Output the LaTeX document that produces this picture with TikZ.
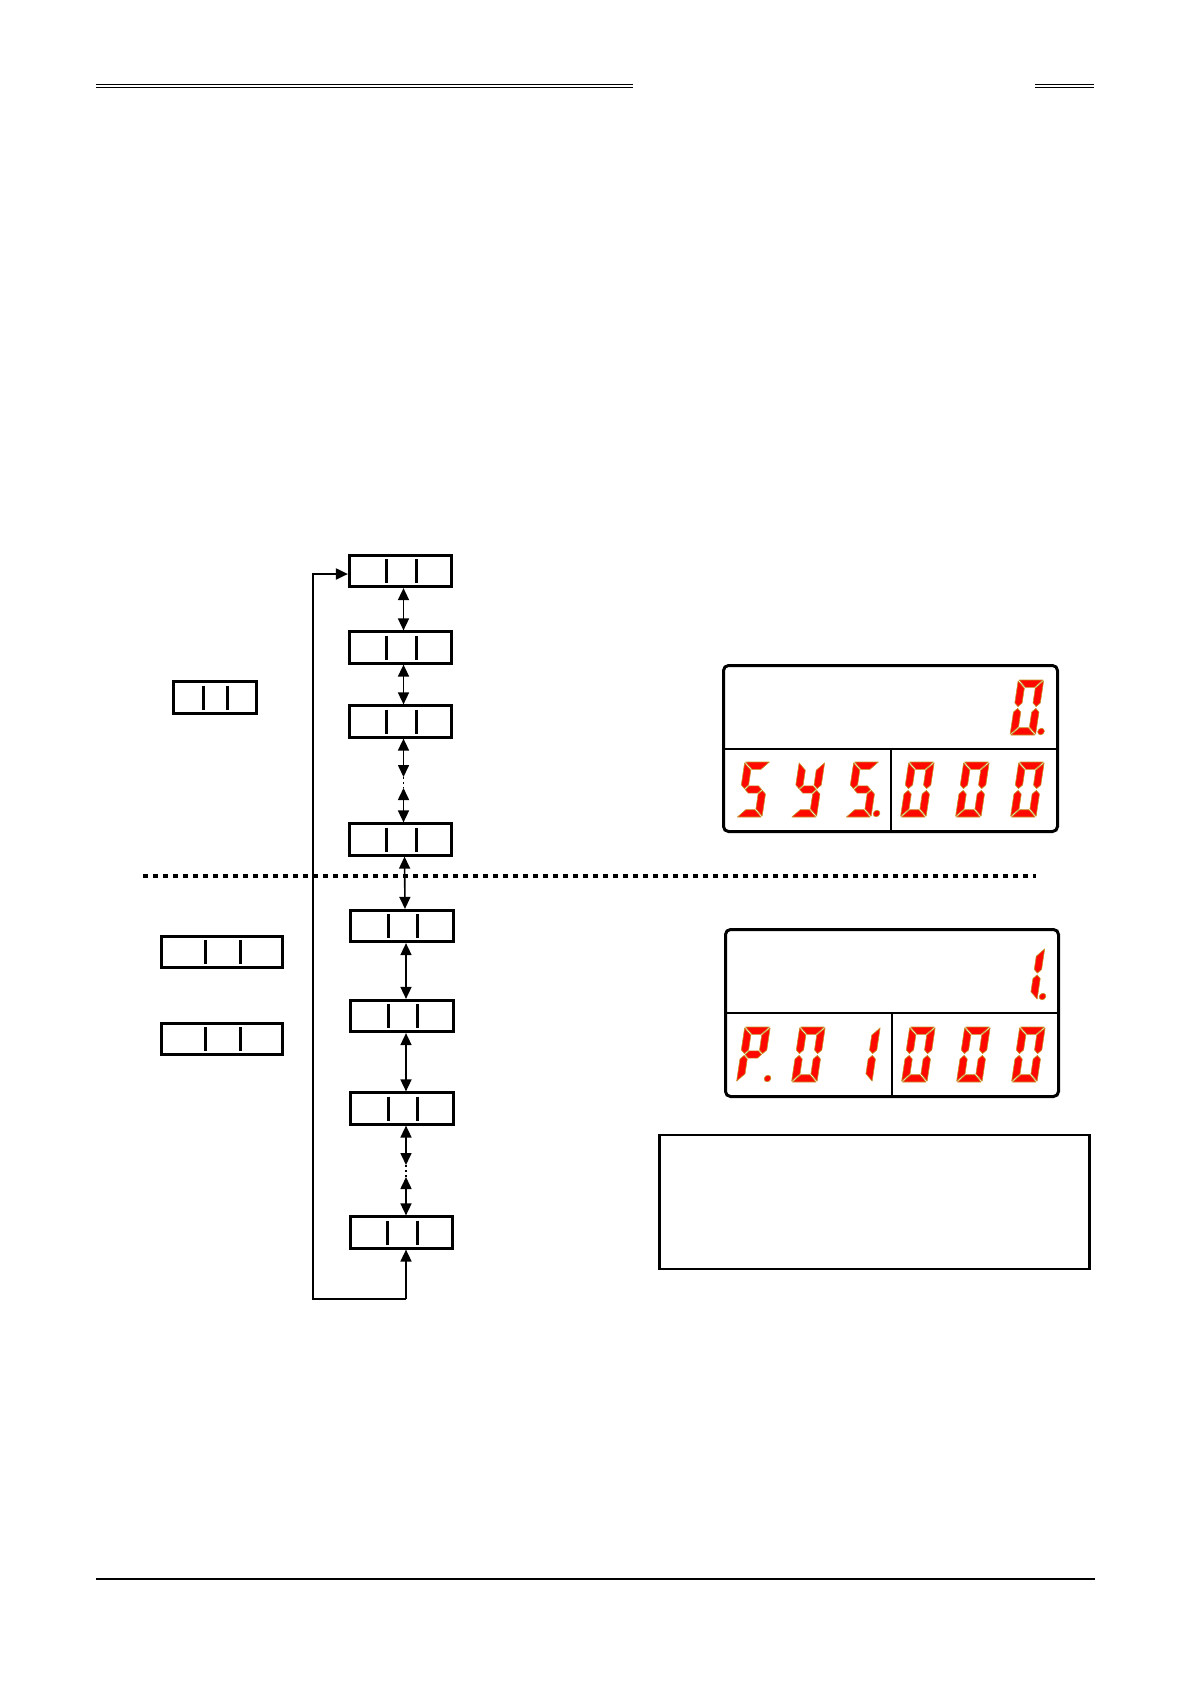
\documentclass[tikz,border=0pt]{standalone}
\usetikzlibrary{arrows.meta}
\definecolor{segred}{RGB}{255,8,0}
\definecolor{segedge}{RGB}{196,150,40}
\def\sgW{25.5}\def\sgT{7.3}\def\sgG{0.9}\def\sgH{55}
\newcommand\SA{\path[seg] (\sgG,\sgH) -- (\sgW-\sgG,\sgH) -- (\sgW-\sgT-\sgG,\sgH-\sgT) -- (\sgT+\sgG,\sgH-\sgT) -- cycle;}
\newcommand\SB{\path[seg] (\sgW,\sgH-\sgG) -- (\sgW,\sgH/2+\sgG+\sgT/2) -- (\sgW-\sgT/2,\sgH/2+\sgG) -- (\sgW-\sgT,\sgH/2+\sgG+\sgT/2) -- (\sgW-\sgT,\sgH-\sgT-\sgG) -- cycle;}
\newcommand\SC{\path[seg] (\sgW,\sgG) -- (\sgW,\sgH/2-\sgG-\sgT/2) -- (\sgW-\sgT/2,\sgH/2-\sgG) -- (\sgW-\sgT,\sgH/2-\sgG-\sgT/2) -- (\sgW-\sgT,\sgT+\sgG) -- cycle;}
\newcommand\SD{\path[seg] (\sgG,0) -- (\sgW-\sgG,0) -- (\sgW-\sgT-\sgG,\sgT) -- (\sgT+\sgG,\sgT) -- cycle;}
\newcommand\SE{\path[seg] (0,\sgG) -- (0,\sgH/2-\sgG-\sgT/2) -- (\sgT/2,\sgH/2-\sgG) -- (\sgT,\sgH/2-\sgG-\sgT/2) -- (\sgT,\sgT+\sgG) -- cycle;}
\newcommand\SF{\path[seg] (0,\sgH-\sgG) -- (0,\sgH/2+\sgG+\sgT/2) -- (\sgT/2,\sgH/2+\sgG) -- (\sgT,\sgH/2+\sgG+\sgT/2) -- (\sgT,\sgH-\sgT-\sgG) -- cycle;}
\newcommand\SG{\path[seg] (\sgT/2+\sgG,\sgH/2) -- (\sgT+\sgG,\sgH/2+\sgT/2) -- (\sgW-\sgT-\sgG,\sgH/2+\sgT/2) -- (\sgW-\sgT/2-\sgG,\sgH/2) -- (\sgW-\sgT-\sgG,\sgH/2-\sgT/2) -- (\sgT+\sgG,\sgH/2-\sgT/2) -- cycle;}
\newcommand\SP{\path[seg] (30.5,3.5) circle[radius=3.3];}
\newcommand\sdig[4]{\begin{scope}[shift={(#1,#2)},x=1pt,y=1pt,xslant=0.15]\def\sgH{#3}#4\end{scope}}
\tikzset{
  seg/.style={fill=segred, draw=segedge, line width=0.6pt, line join=round},
  keybox/.style n args={4}{draw, line width=2.7pt, minimum width=#1, minimum height=#2, inner sep=0pt,
    path picture={
      \draw[line width=3pt] ([xshift=#3]path picture bounding box.center) ++(0,-12) -- ++(0,24);
      \draw[line width=3pt] ([xshift=#4]path picture bounding box.center) ++(0,-12) -- ++(0,24);}},
  mainbox/.style={keybox={102.5pt}{31.5pt}{-14pt}{15.5pt}},
  sidebox/.style={keybox={121.5pt}{31.5pt}{-17pt}{18pt}},
  dispbox/.style={draw, line width=3pt, rounded corners=5pt, inner sep=0pt},
  darr/.style={line width=1.6pt, {Triangle[length=12pt,width=11pt]}-{Triangle[length=12pt,width=11pt]}},
  arr/.style={line width=1.6pt, -{Triangle[length=12pt,width=11pt]}},
  dotseg/.style={line width=1.6pt, dash pattern=on 2pt off 3pt},
  rule/.style={line width=1.2pt},
}
\begin{document}
\begin{tikzpicture}[x=1pt,y=-1pt]
\fill[white] (0,0) rectangle (1191,1684);
\useasboundingbox (0,0) rectangle (1191,1684);
% header and footer rules
\draw[rule] (96,84.5) -- (633,84.5);
\draw[rule] (96,87.6) -- (633,87.6);
\draw[rule] (1035,84.5) -- (1094,84.5);
\draw[rule] (1035,87.6) -- (1094,87.6);
\draw[line width=2pt] (96,1579) -- (1095,1579);
% separator
\draw[line width=4.5pt, dash pattern=on 4.5pt off 5.5pt] (143,876) -- (1036,876);
% main column
\node[mainbox] (b1) at (400.5,571) {};
\node[mainbox] (b2) at (400.5,647.5) {};
\node[mainbox] (b3) at (400.5,721.5) {};
\node[mainbox] (b4) at (400.5,839.5) {};
\node[mainbox] (b5) at (402,926) {};
\node[mainbox] (b6) at (402,1016) {};
\node[mainbox] (b7) at (402,1108.5) {};
\node[mainbox] (b8) at (401.5,1232.5) {};
% side boxes
\node[keybox={83.5pt}{32.5pt}{-12pt}{12pt}] (l1) at (215,697.5) {};
\node[sidebox] (l2) at (222,952) {};
\node[sidebox] (l3) at (222,1039) {};
% connectors
\draw[darr] ([xshift=3pt]b1.south) -- ([xshift=3pt]b2.north);
\draw[darr] ([xshift=3pt]b2.south) -- ([xshift=3pt]b3.north);
\coordinate (m1) at (403.5,777);
\coordinate (m2) at (403.5,788);
\draw[darr] ([xshift=3pt]b3.south) -- (m1);
\draw[dotseg] (m1) -- (m2);
\draw[darr] (m2) -- ([xshift=3pt]b4.north);
\draw[darr] ([xshift=4pt]b4.south) -- ([xshift=3pt]b5.north);
\draw[darr] ([xshift=4pt]b5.south) -- ([xshift=4pt]b6.north);
\draw[darr] ([xshift=4pt]b6.south) -- ([xshift=4pt]b7.north);
\coordinate (m3) at (406,1165);
\coordinate (m4) at (406,1177);
\draw[darr] ([xshift=4pt]b7.south) -- (m3);
\draw[dotseg] (m3) -- (m4);
\draw[darr] (m4) -- ([xshift=4.5pt]b8.north);
\coordinate (fb) at (406,1299);
\coordinate (fc) at (313,1299);
\draw[arr] (fb) -- ([xshift=4.5pt]b8.south);
\draw[arr, line width=2pt] (fb) -- (fc) |- ([yshift=-3pt]b1.west);
% displays
\node[dispbox, minimum width=334pt, minimum height=166pt] (d1) at (890.5,748.5) {};
\draw[line width=2pt] (d1.west) -- (d1.east);
\draw[line width=2pt] (d1.center) -- (d1.south);
\node[dispbox, minimum width=333pt, minimum height=167pt] (d2) at (892,1013) {};
\draw[line width=2pt] (d2.west) -- (d2.east);
\draw[line width=2pt] (d2.center) -- (d2.south);
% display 1 digits
\sdig{1010}{735}{55}{\SA\SB\SC\SD\SE\SF\SP}
\sdig{736.5}{817}{55}{\SA\SF\SG\SC\SD}
\sdig{791}{817}{55}{\SB\SF\SG\SC\SD}
\sdig{845.5}{817}{55}{\SA\SF\SG\SC\SD\SP}
\sdig{900.5}{817}{55}{\SA\SB\SC\SD\SE\SF}
\sdig{955.5}{817}{55}{\SA\SB\SC\SD\SE\SF}
\sdig{1010.5}{817}{55}{\SA\SB\SC\SD\SE\SF}
% display 2 digits
\sdig{1011.5}{1000}{52}{\SB\SC\SP}
\sdig{736.5}{1082}{55}{\SA\SB\SE\SF\SG\SP}
\sdig{791.5}{1082}{55}{\SA\SB\SC\SD\SE\SF}
\sdig{846.5}{1082}{55}{\SB\SC}
\sdig{901.5}{1082}{55}{\SA\SB\SC\SD\SE\SF}
\sdig{956.5}{1082}{55}{\SA\SB\SC\SD\SE\SF}
\sdig{1011.5}{1082}{55}{\SA\SB\SC\SD\SE\SF}
% note box
\node[draw, line width=2.2pt, minimum width=430pt, minimum height=134pt, inner sep=0pt] (note) at (874.5,1202) {};
\end{tikzpicture}
\end{document}
